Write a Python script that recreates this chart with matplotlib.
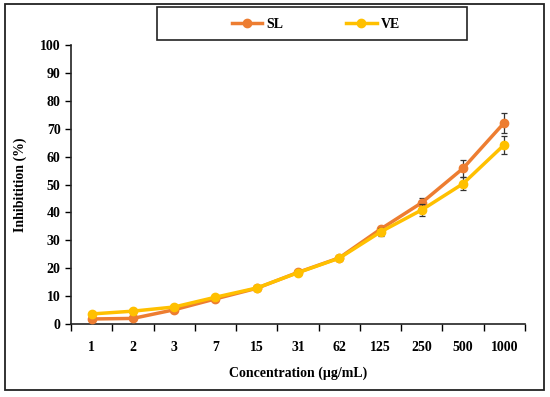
import matplotlib.pyplot as plt
from matplotlib.patches import Rectangle

concentrations = ['1', '2', '3', '7', '15', '31', '62', '125', '250', '500', '1000']
sl_values = [1.8, 2.0, 5.1, 9.0, 12.8, 18.5, 23.7, 34.0, 43.5, 55.8, 72.2]
sl_errors = [0.4, 0.4, 0.5, 0.5, 0.5, 0.6, 0.8, 1.2, 1.5, 3.0, 3.6]
ve_values = [3.6, 4.6, 6.1, 9.6, 12.9, 18.4, 23.6, 33.0, 40.9, 50.3, 64.3]
ve_errors = [0.4, 0.4, 0.5, 0.5, 0.5, 0.6, 0.8, 1.3, 2.2, 2.4, 3.2]

SL_COLOR = '#ED7D31'
VE_COLOR = '#FFC000'

plt.rcParams['font.family'] = ['Liberation Serif', 'DejaVu Serif']
plt.rcParams['font.weight'] = 'bold'

fig = plt.figure(figsize=(5.5, 3.97), dpi=100)
W, H = 550, 397
ax = fig.add_axes([71 / W, 1 - 324 / H, (525 - 71) / W, (324 - 45) / H])

# outer frame and legend box
fig.patches.append(Rectangle((5 / W, 1 - 390 / H), (544 - 5) / W, (390 - 4) / H,
                             transform=fig.transFigure, fill=False,
                             edgecolor='#222222', linewidth=1.3))
fig.patches.append(Rectangle((157 / W, 1 - 40 / H), (467 - 157) / W, (40 - 7) / H,
                             transform=fig.transFigure, fill=False,
                             edgecolor='#222222', linewidth=1.2))

x = range(len(concentrations))
err_opts = dict(ecolor='#333333', elinewidth=0.9, capsize=2.5, capthick=0.9)
ax.errorbar(x, sl_values, yerr=sl_errors, color=SL_COLOR, marker='o',
            markersize=6, linewidth=2.5, label='SL', zorder=3, **err_opts)
ax.errorbar(x, ve_values, yerr=ve_errors, color=VE_COLOR, marker='o',
            markersize=6, linewidth=2.5, label='VE', zorder=4, **err_opts)

ax.set_xlim(-0.5, len(concentrations) - 0.5)
ax.set_ylim(0, 100)
ax.set_yticks(range(0, 101, 10))
ax.set_xticks(x)
ax.set_xticklabels(concentrations)
ax.set_xticks([i - 0.5 for i in range(len(concentrations) + 1)], minor=True)
ax.tick_params(axis='x', which='major', length=0, pad=12, labelsize=10)
ax.tick_params(axis='x', which='minor', length=5, width=1, direction='out')
ax.tick_params(axis='y', length=4, width=1, labelsize=10)
for side in ['top', 'right']:
    ax.spines[side].set_visible(False)
for side in ['left', 'bottom']:
    ax.spines[side].set_linewidth(1.2)
    ax.spines[side].set_color('#222222')

ax.set_xlabel('Concentration (µg/mL)', fontsize=10, fontweight='bold', labelpad=9)
ax.set_ylabel('Inhibitition (%)', fontsize=10, fontweight='bold', labelpad=9)

handles, labels = ax.get_legend_handles_labels()
handles = [h[0] for h in handles]
fig.legend(handles, labels, ncol=2, loc='center',
           bbox_to_anchor=(316 / W, 1 - 24 / H),
           fontsize=10, frameon=False, handlelength=2.2,
           columnspacing=4.5, handletextpad=0.3)

fig.savefig('out.png', dpi=100)
